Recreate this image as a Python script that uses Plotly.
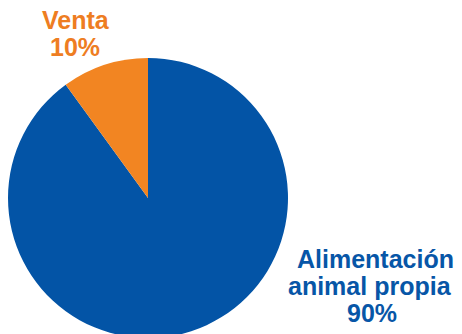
import plotly.graph_objects as go

# Data
labels = ["Alimentación animal propia", "Venta"]
values = [90, 10]
label_lines = [["Alimentación", "animal propia"], ["Venta"]]
slice_colors = ["#0354A6", "#F28522"]
text_colors = ["#0756A7", "#EE7D22"]

W, H = 462, 350
cx, cy, r = 148, 198, 140

fig = go.Figure(go.Pie(
    labels=labels,
    values=values,
    sort=False,
    direction="clockwise",
    rotation=0,
    textinfo="none",
    hoverinfo="label+percent",
    marker=dict(colors=slice_colors, line=dict(width=0)),
    domain=dict(x=[(cx - r) / W, (cx + r) / W], y=[(H - cy - r) / H, (H - cy + r) / H]),
    showlegend=False,
))

total = sum(values)
# label positions (pixel centre x, text box centre y)
label_pos = [
    [(375, 259), (370, 285.5), (372, 312.5)],
    [(76, 19.5), (75, 46.5)],
]
fs = 25
for i, lab in enumerate(labels):
    lines = label_lines[i] + [f"{round(values[i] / total * 100)}%"]
    for line, (px, py) in zip(lines, label_pos[i]):
        fig.add_annotation(
            text=line, x=px / W, y=(H - py) / H, xref="paper", yref="paper",
            xanchor="center", yanchor="middle", showarrow=False,
            font=dict(family="Liberation Sans, Arial, sans-serif", size=fs, color=text_colors[i], weight="bold"),
        )

fig.update_layout(
    width=W, height=H,
    margin=dict(l=0, r=0, t=0, b=0),
    paper_bgcolor="white", plot_bgcolor="white",
)

fig.write_html(
    "out.html",
    config={"displayModeBar": False},
    post_script="document.body.style.margin='0';document.body.style.overflow='hidden';document.documentElement.style.overflow='hidden';",
)
